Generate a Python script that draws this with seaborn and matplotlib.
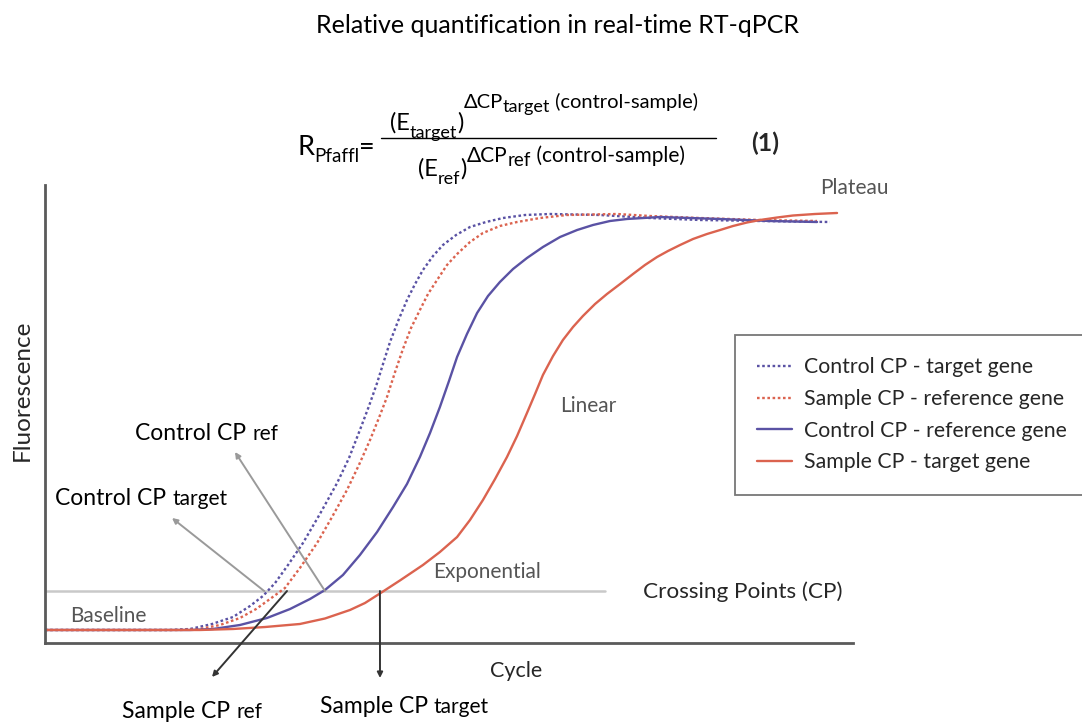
import matplotlib
matplotlib.use("Agg")
import matplotlib.pyplot as plt
from matplotlib.lines import Line2D
import seaborn as sns
import pandas as pd

# ---------------- data ----------------
# cycle / fluorescence (arbitrary units, 0-100)
ctrl_target_cycle = [0, 3.71, 6.19, 7.18, 8.27, 9.31, 10.15, 10.79, 11.39, 12.03, 12.77, 13.61,
                     14.46, 15.05, 15.59, 16.04, 16.44, 16.78, 17.08, 17.48, 17.92, 18.32, 18.71,
                     19.21, 19.70, 20.35, 21.04, 21.83, 22.67, 23.76, 25.00, 27.48, 29.95, 32.43,
                     35.40, 38.86]
ctrl_target_fluor = [2.84, 2.84, 2.84, 3.06, 4.15, 5.68, 8.08, 10.26, 13.10, 17.03, 21.83, 28.17,
                     34.93, 40.39, 46.51, 51.75, 56.77, 61.57, 65.72, 70.31, 74.89, 78.38, 81.44,
                     84.50, 86.90, 89.08, 90.83, 91.92, 92.79, 93.45, 93.67, 93.45, 92.79, 92.36,
                     92.14, 91.92]

sample_ref_cycle = [0, 3.71, 6.68, 7.67, 8.66, 9.65, 10.45, 11.14, 11.88, 12.62, 13.47, 14.21,
                    14.95, 15.54, 16.09, 16.53, 16.93, 17.33, 17.72, 18.12, 18.56, 18.96, 19.41,
                    19.90, 20.40, 21.04, 21.68, 22.52, 23.37, 24.50, 25.84, 28.32, 29.95, 32.43,
                    35.40, 38.22]
sample_ref_fluor = [2.84, 2.84, 2.84, 3.06, 3.93, 5.46, 7.42, 9.61, 12.01, 16.38, 21.83, 27.51,
                    33.41, 38.86, 44.32, 49.13, 53.71, 59.17, 64.19, 68.78, 72.71, 76.20, 79.26,
                    82.53, 84.93, 87.55, 89.52, 91.05, 91.92, 92.79, 93.45, 93.67, 93.23, 92.79,
                    92.36, 92.14]

ctrl_ref_cycle = [0, 3.71, 7.18, 8.32, 9.65, 10.99, 12.13, 13.12, 13.86, 14.75, 15.59, 16.44,
                  17.23, 17.92, 18.56, 19.06, 19.55, 20.00, 20.40, 20.89, 21.39, 21.93, 22.52,
                  23.17, 23.86, 24.65, 25.50, 26.34, 27.13, 27.97, 28.81, 30.45, 33.42, 35.89,
                  38.22]
ctrl_ref_fluor = [2.84, 2.84, 2.84, 3.06, 3.93, 5.46, 7.42, 9.61, 11.57, 14.85, 19.21, 24.24,
                  29.69, 34.72, 40.61, 45.85, 51.53, 57.21, 62.45, 67.47, 72.05, 75.76, 78.82,
                  81.66, 84.06, 86.46, 88.65, 90.17, 91.27, 92.14, 92.58, 93.01, 92.58, 92.14,
                  91.92]

sample_target_cycle = [0, 3.71, 7.67, 9.31, 10.89, 12.62, 13.86, 15.10, 15.84, 16.58, 17.57,
                       18.71, 19.55, 20.40, 21.04, 21.68, 22.28, 22.87, 23.37, 23.86, 24.26,
                       24.65, 25.15, 25.64, 26.14, 26.63, 27.23, 27.82, 28.47, 29.11, 29.70,
                       30.30, 30.84, 31.44, 32.08, 32.77, 33.42, 34.06, 34.75, 35.40, 36.24,
                       37.03, 38.12, 39.21]
sample_target_fluor = [2.84, 2.84, 2.84, 3.06, 3.49, 4.15, 5.35, 7.21, 8.73, 10.81, 13.65,
                       17.03, 19.87, 23.14, 26.86, 31.22, 35.81, 40.61, 45.20, 50.22, 54.37,
                       58.52, 62.66, 66.16, 69.00, 71.40, 74.02, 76.20, 78.38, 80.57, 82.53,
                       84.28, 85.59, 86.90, 88.21, 89.30, 90.17, 91.05, 91.81, 92.36, 92.90,
                       93.34, 93.67, 93.89]

series_labels = ["Control CP - target gene", "Sample CP - reference gene",
                 "Control CP - reference gene", "Sample CP - target gene"]

threshold_level = 11.35
threshold_end = 27.7
cp_ctrl_target = 10.85
cp_sample_ref = 11.98
cp_ctrl_ref = 13.86
cp_sample_target = 16.58

# ---------------- figure ----------------
W, H = 1082, 722
sns.set_theme(style="white")
plt.rcParams["font.family"] = ["Lato", "DejaVu Sans"]

fig = plt.figure(figsize=(W / 100, H / 100), dpi=100)
ax = fig.add_axes([45 / W, 1 - 643 / H, 808 / W, 458 / H])

BLUE = "#5a52a4"
RED = "#db634f"
DOT = (0, (1.1, 1.1))

curves = [
    (ctrl_target_cycle, ctrl_target_fluor, BLUE, DOT),
    (sample_ref_cycle, sample_ref_fluor, RED, DOT),
    (ctrl_ref_cycle, ctrl_ref_fluor, BLUE, "-"),
    (sample_target_cycle, sample_target_fluor, RED, "-"),
]
handles = []
for (cx, cy, col, ls), lab in zip(curves, series_labels):
    df = pd.DataFrame({"cycle": cx, "fluor": cy})
    sns.lineplot(data=df, x="cycle", y="fluor", ax=ax, color=col, linestyle=ls,
                 linewidth=1.7, sort=False, estimator=None, legend=False)
    handles.append(Line2D([], [], color=col, linestyle=ls, linewidth=1.7, label=lab))

# threshold line
ax.plot([0, threshold_end], [threshold_level, threshold_level], color="#c9c9c9", lw=1.8,
        zorder=0)

ax.set_xlim(0, 40)
ax.set_ylim(0, 100)
ax.set_xticks([])
ax.set_yticks([])
ax.set_xlabel("")
ax.set_ylabel("")
for s in ["top", "right"]:
    ax.spines[s].set_visible(False)
for s in ["left", "bottom"]:
    ax.spines[s].set_color("#5a5a5a")
    ax.spines[s].set_linewidth(2.0)

leg = fig.legend(handles=handles, loc="upper left",
                 bbox_to_anchor=(735 / W, 1 - 335 / H), bbox_transform=fig.transFigure,
                 fontsize=15.3, frameon=True, fancybox=False, handlelength=1.65,
                 handletextpad=0.55, borderpad=1.05, labelspacing=0.55, borderaxespad=0)
leg.get_frame().set_edgecolor("#555555")
leg.get_frame().set_linewidth(1.3)

renderer = fig.canvas.get_renderer()


def fx(x):
    return x / W


def fy(y):
    return 1 - y / H


def rich(x, y, pieces, color="black"):
    for s, size, dy, weight in pieces:
        t = fig.text(fx(x), fy(y + dy), s, fontsize=size, va="baseline", ha="left",
                     color=color, fontweight=weight)
        bb = t.get_window_extent(renderer)
        x = bb.x1
    return x


# title
fig.text(fx(557), fy(33), "Relative quantification in real-time RT-qPCR", fontsize=18,
         ha="center", va="baseline", color="black")

# formula
M = 17
rich(297, 155, [("R", 19.5, 0, "normal"), ("Pfaffl", 13.5, 7, "normal"),
                ("=", 19.5, 0, "normal")])
rich(390, 130, [("(E", M, 0, "normal"), ("target", 13, 8, "normal"), (")", M, 0, "normal"),
                ("ΔCP", 14.5, -22, "normal"), ("target", 13, -18, "normal"),
                (" (control-sample)", 14.5, -22, "normal")])
rich(418, 176, [("(E", M, 0, "normal"), ("ref", 13, 8, "normal"), (")", M, 0, "normal"),
                ("ΔCP", 15, -14, "normal"), ("ref", 13.5, -10, "normal"),
                (" (control-sample)", 15, -14, "normal")])
fig.add_artist(Line2D([fx(381), fx(716)], [fy(138), fy(138)], color="black", lw=1.0,
                      transform=fig.transFigure))
fig.text(fx(751), fy(151), "(1)", fontsize=18, fontweight="bold", va="baseline", ha="left")

# axis labels
fig.text(fx(22), fy(390), "Fluorescence", rotation=90, fontsize=17.5, ha="center",
         va="center")
fig.text(fx(516), fy(677), "Cycle", fontsize=15.5, ha="center", va="baseline")

# phase labels
GREY = "#555555"
fig.text(fx(820), fy(194), "Plateau", fontsize=15, color=GREY, va="baseline")
fig.text(fx(560), fy(412), "Linear", fontsize=15, color=GREY, va="baseline")
fig.text(fx(433), fy(578), "Exponential", fontsize=15, color=GREY, va="baseline")
fig.text(fx(70), fy(622), "Baseline", fontsize=15, color=GREY, va="baseline")
fig.text(fx(643), fy(598), "Crossing Points (CP)", fontsize=16.2, va="baseline")

# CP labels
rich(135, 440, [("Control CP ", 16.5, 0, "normal"), ("ref", 15, 0, "normal")])
rich(55, 505, [("Control CP ", 16.5, 0, "normal"), ("target", 15, 0, "normal")])
rich(122, 718, [("Sample CP ", 16.5, 0, "normal"), ("ref", 15, 0, "normal")])
rich(320, 713, [("Sample CP ", 16.5, 0, "normal"), ("target", 15, 0, "normal")])

# arrows
arrows = [
    ((235, 452), cp_ctrl_ref, "#9a9a9a"),
    ((172, 518), cp_ctrl_target, "#9a9a9a"),
    ((212, 677), cp_sample_ref, "#333333"),
    ((380, 678), cp_sample_target, "#333333"),
]
for (hx, hy), cp, col in arrows:
    ax.annotate("", xy=(fx(hx), fy(hy)), xycoords="figure fraction",
                xytext=(cp, threshold_level), textcoords="data",
                arrowprops=dict(arrowstyle="-|>", color=col, lw=1.4, mutation_scale=8,
                                shrinkA=0, shrinkB=0),
                annotation_clip=False)

fig.savefig("out.png", dpi=100)
